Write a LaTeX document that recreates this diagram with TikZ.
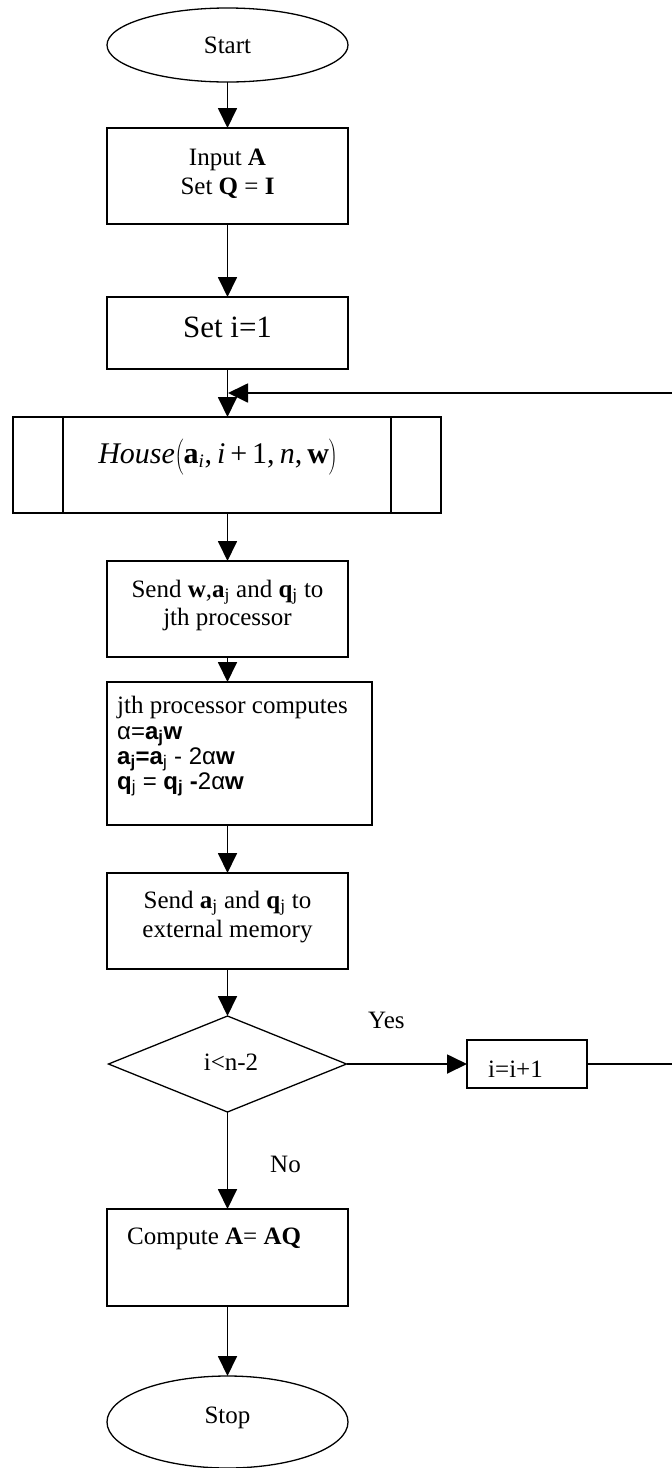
\documentclass[tikz,border=0pt]{standalone}
\usepackage{fontspec}
\setmainfont{Liberation Serif}
\newfontfamily\arialfont{Liberation Sans}
\usetikzlibrary{arrows.meta,shapes.geometric}

\begin{document}
\begin{tikzpicture}[x=1pt,y=-1pt,
  shapebox/.style={draw,line width=1.3pt,inner sep=0pt,outer sep=0pt},
  procbox/.style={shapebox,rectangle},
  terminal/.style={shapebox,ellipse},
  decision/.style={shapebox,diamond},
  flow/.style={line width=1.8pt,-{Triangle[length=20pt,width=19pt]}},
  txt/.style={font=\fontsize{25}{29}\selectfont,anchor=base,inner sep=0pt},
  ltxt/.style={txt,anchor=base west},
  stxt/.style={ltxt,font=\fontsize{24}{28}\selectfont\arialfont},
]
\useasboundingbox (0,0) rectangle (672,1468);
\clip (0,0) rectangle (672,1468);

% shapes
\node[terminal,minimum width=241pt,minimum height=74pt] (start) at (227.5,45) {};
\node[procbox,minimum width=241pt,minimum height=96pt] (input) at (227.5,176) {};
\node[procbox,minimum width=241pt,minimum height=72pt] (seti) at (227.5,333) {};
\node[procbox,minimum width=428pt,minimum height=96pt] (house) at (227,465) {};
\draw[line width=1.3pt] ([xshift=50pt]house.north west) -- ([xshift=50pt]house.south west);
\draw[line width=1.3pt] ([xshift=-50pt]house.north east) -- ([xshift=-50pt]house.south east);
\node[procbox,minimum width=241pt,minimum height=96pt] (sendw) at (227.5,609) {};
\node[procbox,minimum width=265pt,minimum height=143pt] (comp) at (239.5,753.5) {};
\node[procbox,minimum width=241pt,minimum height=96pt] (senda) at (227.5,921) {};
\node[decision,minimum width=238pt,minimum height=96pt] (dec) at (227.5,1064) {};
\node[procbox,minimum width=120pt,minimum height=48pt] (inc) at (527,1064) {};
\node[procbox,minimum width=241pt,minimum height=97pt] (compa) at (227.5,1257.5) {};
\node[terminal,minimum width=241pt,minimum height=92pt] (stop) at (227.5,1422) {};

% texts
\node[txt] (tstart) at (227.5,53) {Start};
\node[txt] (tin1) at (227.5,165) {Input \textbf{A}};
\node[txt] (tin2) at (227.5,194) {Set \textbf{Q} = \textbf{I}};
\node[txt,font=\fontsize{31}{35}\selectfont] (tseti) at (227.5,337) {Set i=1};
\node[txt,font=\fontsize{30}{34}\selectfont] (thouse) at (218,463)
  {\textit{House}$\left(\vrule height 25pt depth 9pt width 0pt\mbox{\textbf{a}$_{\mbox{\fontsize{19}{19}\selectfont\itshape i}}$,\,\textit{i}\,+\,1,\,\textit{n},\,\textbf{w}}\right)$};
\node[txt] (tsw1) at (227.5,597) {Send \textbf{w},\textbf{a}\textsubscript{j} and \textbf{q}\textsubscript{j} to};
\node[txt] (tsw2) at (227.5,625) {jth processor};
\node[ltxt] (tc1) at (117,713) {jth processor computes};
\node[stxt] (tc2) at (117,739) {α=\textbf{a\textsubscript{j}w}};
\node[stxt] (tc3) at (117,764) {\textbf{a\textsubscript{j}=a}\textsubscript{j} - 2α\textbf{w}};
\node[stxt] (tc4) at (117,789) {\textbf{q}\textsubscript{j} = \textbf{q\textsubscript{j} -}2α\textbf{w}};
\node[txt] (tsa1) at (227.5,908) {Send \textbf{a}\textsubscript{j} and \textbf{q}\textsubscript{j} to};
\node[txt] (tsa2) at (227.5,937) {external memory};
\node[txt] (tdec) at (231,1070) {i<n-2};
\node[ltxt] (tinc) at (488,1077) {i=i+1};
\node[ltxt] (tyes) at (368,1028) {Yes};
\node[ltxt] (tno) at (270,1172) {No};
\node[ltxt] (tcompa) at (127,1244) {Compute \textbf{A}= \textbf{AQ}};
\node[txt] (tstop) at (227.5,1423) {Stop};

% connectors
\draw[flow] (start.south) -- (input.north);
\draw[flow] (input.south) -- (seti.north);
\draw[flow] (seti.south) -- (house.north -| seti.south);
\draw[flow] (house.south -| sendw.north) -- (sendw.north);
\draw[flow] (sendw.south) -- (sendw.south |- comp.north);
\draw[flow] (sendw.south |- comp.south) -- (senda.north);
\draw[flow] (senda.south) -- (dec.north);
\draw[flow] (dec.south) -- (compa.north);
\draw[flow] (compa.south) -- (stop.north);
\draw[flow] (dec.east) -- (inc.west);

% loop back to the Householder step
\coordinate (back) at (680,1064);
\coordinate (join) at (228,393);
\draw[flow] (inc.east) -- (back) |- (join);
\end{tikzpicture}
\end{document}
